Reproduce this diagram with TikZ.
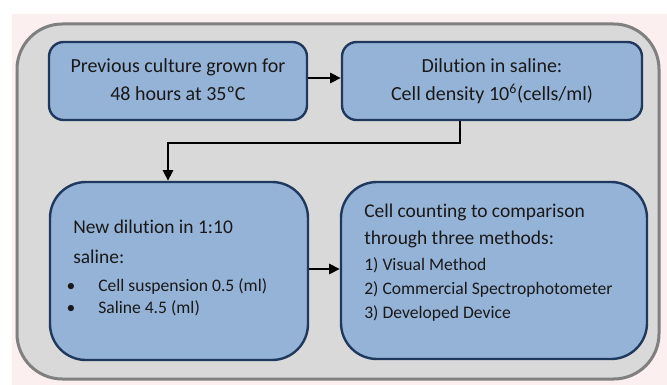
\documentclass[tikz,border=0pt]{standalone}
\usepackage{fontspec}
\setmainfont{Carlito}[Ligatures=NoCommon]
\usetikzlibrary{arrows.meta}
\definecolor{pinkbg}{RGB}{251,239,239}
\definecolor{outerfill}{RGB}{217,217,217}
\definecolor{outerline}{RGB}{128,128,128}
\definecolor{boxfill}{RGB}{149,179,215}
\definecolor{boxline}{RGB}{31,56,93}
\definecolor{txt}{RGB}{25,25,25}
\tikzset{
  outerbox/.style={draw=outerline, fill=outerfill, line width=2.25pt, rounded corners=34pt, inner sep=0pt},
  topbox/.style={draw=boxline, fill=boxfill, line width=1.8pt, rounded corners=11pt, inner sep=0pt},
  lowbox/.style={draw=boxline, fill=boxfill, line width=1.8pt, rounded corners=27pt, inner sep=0pt},
  conn/.style={draw=black, line width=2.2pt, -{Triangle[length=8pt,width=7.5pt]}},
  bigtxt/.style={inner sep=0pt, text=txt, font=\fontsize{15}{18}\selectfont},
  midtxt/.style={inner sep=0pt, text=txt, font=\fontsize{14.6}{18}\selectfont, anchor=base west},
  smalltxt/.style={inner sep=0pt, text=txt, font=\fontsize{13.2}{16}\selectfont, anchor=base west},
}
\begin{document}
\begin{tikzpicture}[x=0.75pt,y=-0.75pt]
\useasboundingbox (0,0) rectangle (667,385);
\fill[pinkbg] (12,14) rectangle (667,385);
\node[outerbox, minimum width=481.5pt, minimum height=266.25pt] (outer) at (338,201.5) {};
\node[topbox, minimum width=193.5pt, minimum height=58.5pt] (b1) at (178,81) {};
\node[topbox, minimum width=225pt, minimum height=58.5pt] (b2) at (492,81) {};
\node[lowbox, minimum width=193.5pt, minimum height=133.5pt] (b3) at (179,271) {};
\node[lowbox, minimum width=229.5pt, minimum height=132.75pt] (b4) at (494,270.5) {};
% box 1 text
\node[bigtxt, anchor=base] (t1a) at (178,73) {Previous culture grown for};
\node[bigtxt, anchor=base] (t1b) at (178,100) {48 hours at 35ºC};
% box 2 text
\node[bigtxt, anchor=base] (t2a) at (492,73) {Dilution in saline:};
\node[bigtxt, anchor=base] (t2b) at (492,100) {Cell density 10\textsuperscript{6}(cells/ml)};
% box 3 text
\node[midtxt] (t3a) at (73,233) {New dilution in 1:10};
\node[midtxt] (t3b) at (73,263) {saline:};
\node[smalltxt, anchor=base] (bu1) at (71,291) {•};
\node[smalltxt, anchor=base] (bu2) at (71,313) {•};
\node[smalltxt] (t3c) at (98,291) {Cell suspension 0.5 (ml)};
\node[smalltxt] (t3d) at (98,313) {Saline 4.5 (ml)};
% box 4 text
\node[midtxt] (t4a) at (364,217) {Cell counting to comparison};
\node[midtxt] (t4b) at (364,244) {through three methods:};
\node[smalltxt] (t4c) at (364,270) {1) Visual Method};
\node[smalltxt] (t4d) at (364,294) {2) Commercial Spectrophotometer};
\node[smalltxt] (t4e) at (364,318) {3) Developed Device};
% connectors
\coordinate (r1) at (0,78);
\coordinate (r2) at (0,269);
\coordinate (c1) at (460,143);
\coordinate (c2) at (168,0);
\draw[conn] (b1.east |- r1) -- (b2.west |- r1);
\draw[conn] (b3.east |- r2) -- (b4.west |- r2);
\draw[conn] (b2.south -| c1) -- (c1) -| (b3.north -| c2);
\end{tikzpicture}
\end{document}
